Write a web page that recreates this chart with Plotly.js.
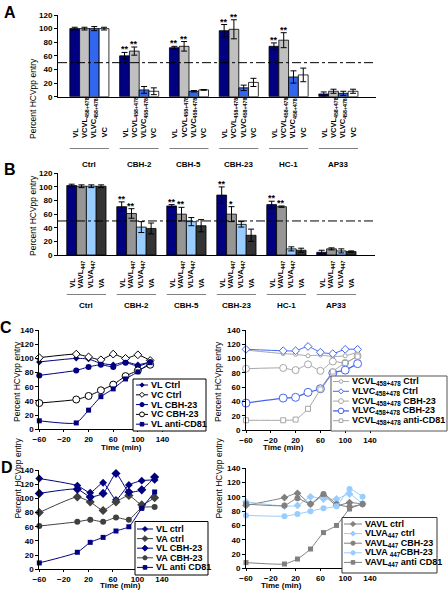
<!DOCTYPE html>
<html><head><meta charset="utf-8">
<script src="https://cdn.plot.ly/plotly-3.0.1.min.js"></script>
<style>html,body{margin:0;padding:0;background:#fff}#chart{width:448px;height:600px}</style>
</head><body><div id="chart"></div>
<script>
// ================= DATA =================
const groups = ["Ctrl", "CBH-2", "CBH-5", "CBH-23", "HC-1", "AP33"];
const threshold = 50;

// Panel A
const aLabels = ["VL", "VCVL<sub>458+478</sub>", "VLVC<sub>458+478</sub>", "VC"];
const aVL = [100, 60, 72, 97, 74, 4];
const aVL_err = [2, 5, 2, 9, 5, 3];
const aVCVL = [100, 67, 74, 99, 83, 8];
const aVCVL_err = [2, 6, 7, 14, 11, 3];
const aVLVC = [100, 10, 8, 13, 29, 5];
const aVLVC_err = [3, 5, 1, 4, 9, 3];
const aVC = [100, 8, 10, 21, 32, 8];
const aVC_err = [2, 5, 0.5, 6, 10, 3];
const aVL_sig = ["", "**", "**", "**", "**", ""];
const aVCVL_sig = ["", "**", "**", "**", "**", ""];

// Panel B
const bLabels = ["VL", "VAVL<sub>447</sub>", "VLVA<sub>447</sub>", "VA"];
const bVL = [102, 71, 72, 88, 74, 4];
const bVL_err = [2, 7, 2, 12, 5, 3];
const bVAVL = [101, 61, 60, 60, 71, 9];
const bVAVL_err = [2, 7, 10, 11, 1, 1.5];
const bVLVA = [101, 41, 49, 45, 9, 6];
const bVLVA_err = [2, 8, 6, 4, 3, 3];
const bVA = [101, 39, 43, 29, 7, 5];
const bVA_err = [2, 8, 9, 9, 3, 1];
const bVL_sig = ["", "**", "**", "**", "**", ""];
const bVAVL_sig = ["", "**", "**", "*", "**", ""];

// Panel C (time course)
const timeC = [-60, 0, 20, 40, 60, 80, 100, 120];
const cVL_ctrl = [95, 100, 99, 93, 91, 95, 91, 95];
const cVC_ctrl = [101, 106, 102, 98, 106, 100, 105, 97];
const cVL_cbh23 = [76, 83, 88, 91, 88, 94, 89, 95];
const cVC_cbh23 = [37, 42, 47, 55, 63, 75, 83, 91];
const cVL_cd81 = [12, 9, 27, 46, 57, 71, 81, 94];

const crVCVL_ctrl = [112, 107, 106, 104, 105, 103, 104, 109];
const crVLVC_ctrl = [113, 111, 111, 117, 109, 107, 113, 113];
const crVCVL_cbh23 = [86, 87, 84, 92, 83, 96, 94, 104];
const crVLVC_cbh23 = [38, 45, 46, 53, 58, 80, 84, 93];
const crVCVL_cd81 = [14, 14, 15, 30, 57, 82, 94, 103];

// Panel D (time course)
const timeD = [-60, 2, 23, 44, 65, 86, 107, 128];
const dVL_ctrl = [128, 118, 108, 122, 98, 119, 125, 126];
const dVA_ctrl = [80, 102, 95, 83, 95, 104, 91, 101];
const dVL_cbh23 = [107, 113, 102, 107, 135, 109, 112, 130];
const dVA_cbh23 = [61, 67, 70, 67, 73, 70, 87, 88];
const dVL_cd81 = [9, 24, 38, 45, 54, 60, 86, 109];

const drVAVL_ctrl = [88, 99, 105, 90, 102, 88, 92, 90];
const drVLVA_ctrl = [93, 87, 88, 100, 97, 97, 104, 90];
const drVAVL_cbh23 = [90, 88, 98, 90, 104, 90, 86, 90];
const drVLVA_cbh23 = [74, 73, 76, 80, 84, 87, 111, 100];
const drVAVL_cd81 = [8, 6, 13, 27, 50, 60, 83, 90];

// ================= LAYOUT HELPERS =================
const W = 448, H = 600;
const px = x => x / W;
const py = y => 1 - y / H;
const FONT = "Liberation Sans, Arial, sans-serif";
const traces = [], annotations = [], shapes = [];
const BARGAP = 0.215;
const barW = (1 - BARGAP) / 4;

function barPanel(xa, ya, labels, valsList, errList, colors, sigList, labelBottom, underlineY, groupNameY) {
  valsList.forEach((vals, bi) => {
    traces.push({
      type: 'bar', x: groups, y: vals, name: labels[bi], xaxis: xa, yaxis: ya,
      marker: {color: colors[bi], line: {color: '#000', width: 0.8}},
      error_y: {type: 'data', array: errList[bi], visible: true, color: '#000', thickness: 1, width: 3},
      hoverinfo: 'skip', showlegend: false
    });
    const off = (bi - 1.5) * barW;
    groups.forEach((g, gi) => {
      annotations.push({xref: xa, yref: 'paper', x: gi + off, y: py(labelBottom), textangle: -90,
        xanchor: 'center', yanchor: 'bottom', text: labels[bi], showarrow: false,
        font: {size: 7.5, weight: 'bold'}});
      const sig = sigList[bi] ? sigList[bi][gi] : '';
      if (sig) {
        annotations.push({xref: xa, yref: ya, x: gi + off, y: vals[gi] + errList[bi][gi],
          yanchor: 'bottom', text: sig, showarrow: false, yshift: -4,
          font: {size: 9, weight: 'bold'}});
      }
    });
  });
  groups.forEach((g, gi) => {
    shapes.push({type: 'line', xref: xa, yref: 'paper', x0: gi - 2 * barW, x1: gi + 2 * barW,
      y0: py(underlineY), y1: py(underlineY), line: {color: '#808080', width: 1.2}});
    annotations.push({xref: xa, yref: 'paper', x: gi, y: py(groupNameY), text: g, showarrow: false,
      font: {size: 8, weight: 'bold'}});
  });
  shapes.push({type: 'line', xref: xa + ' domain', yref: ya, x0: 0, x1: 1, y0: threshold, y1: threshold,
    line: {color: '#000', width: 1, dash: 'dashdot'}});
}

function linePanel(xa, ya, time, series) {
  series.forEach(s => traces.push({
    type: 'scatter', mode: 'lines+markers', x: time, y: s.y, name: s.name, xaxis: xa, yaxis: ya,
    cliponaxis: false,
    line: {color: s.color, width: s.lw || 1, shape: 'spline', smoothing: 0.5},
    marker: {symbol: s.symbol, size: s.size, color: s.open ? '#fff' : s.color,
      line: {color: s.color, width: s.open ? 1 : 0}},
    hoverinfo: 'skip', showlegend: false
  }));
}

function addLegend(box, series, first, step, sx0, sx1, tx, fsize, bcolor) {
  shapes.push({type: 'rect', xref: 'paper', yref: 'paper', layer: 'above',
    x0: px(box[0]), x1: px(box[1]), y0: py(box[3]), y1: py(box[2]),
    line: {color: bcolor || '#000', width: 1}, fillcolor: '#fff'});
  series.forEach((s, i) => {
    const cy = first + i * step;
    shapes.push({type: 'line', xref: 'paper', yref: 'paper', layer: 'above',
      x0: px(sx0), x1: px(sx1), y0: py(cy), y1: py(cy), line: {color: s.color, width: s.lw || 1}});
    const mx = (sx0 + sx1) / 2, r = Math.max(1.8, s.size * 0.35);
    const fill = s.open ? '#fff' : s.color;
    const ln = {color: s.color, width: 1};
    if (s.symbol === 'circle') {
      shapes.push({type: 'circle', xref: 'paper', yref: 'paper', layer: 'above',
        x0: px(mx - r), x1: px(mx + r), y0: py(cy + r), y1: py(cy - r), fillcolor: fill, line: ln});
    } else if (s.symbol === 'square') {
      shapes.push({type: 'rect', xref: 'paper', yref: 'paper', layer: 'above',
        x0: px(mx - r), x1: px(mx + r), y0: py(cy + r), y1: py(cy - r), fillcolor: fill, line: ln});
    } else {
      const rr = r * 1.2;
      shapes.push({type: 'path', xref: 'paper', yref: 'paper', layer: 'above',
        path: `M${px(mx)},${py(cy - rr)} L${px(mx + rr)},${py(cy)} L${px(mx)},${py(cy + rr)} L${px(mx - rr)},${py(cy)} Z`,
        fillcolor: fill, line: ln});
    }
    annotations.push({xref: 'paper', yref: 'paper', x: px(tx), y: py(cy), xanchor: 'left', yanchor: 'middle',
      text: s.name, showarrow: false, font: {size: fsize, weight: 'bold'}});
  });
}

// ================= BUILD =================
const NAVY = '#000080';
barPanel('x', 'y', aLabels, [aVL, aVCVL, aVLVC, aVC], [aVL_err, aVCVL_err, aVLVC_err, aVC_err],
  [NAVY, '#c0c0c0', '#3366ee', '#ffffff'], [aVL_sig, aVCVL_sig, null, null], 140, 148.5, 158);
barPanel('x2', 'y2', bLabels, [bVL, bVAVL, bVLVA, bVA], [bVL_err, bVAVL_err, bVLVA_err, bVA_err],
  [NAVY, '#969696', '#99ccff', '#333333'], [bVL_sig, bVAVL_sig, null, null], 290, 294.5, 305);

const BLUE = '#4466ee', GRAY = '#a6a6a6', DGRAY = '#404040', LBLUE = '#99ccff', MGRAY = '#808080';

const cLeft = [
  {name: 'VL Ctrl', y: cVL_ctrl, color: NAVY, symbol: 'diamond', size: 5},
  {name: 'VC Ctrl', y: cVC_ctrl, color: '#000', symbol: 'diamond', size: 6, open: true},
  {name: 'VL CBH-23', y: cVL_cbh23, color: NAVY, symbol: 'circle', size: 6},
  {name: 'VC CBH-23', y: cVC_cbh23, color: '#000', symbol: 'circle', size: 7, open: true},
  {name: 'VL anti-CD81', y: cVL_cd81, color: NAVY, symbol: 'square', size: 5}
];
const cRight = [
  {name: 'VCVL<sub>458+478</sub> Ctrl', y: crVCVL_ctrl, color: GRAY, symbol: 'circle', size: 4, open: true},
  {name: 'VLVC<sub>458+478</sub> Ctrl', y: crVLVC_ctrl, color: BLUE, symbol: 'diamond', size: 6, open: true},
  {name: 'VCVL<sub>458+478</sub> CBH-23', y: crVCVL_cbh23, color: GRAY, symbol: 'circle', size: 7, open: true},
  {name: 'VLVC<sub>458+478</sub> CBH-23', y: crVLVC_cbh23, color: BLUE, symbol: 'circle', size: 8, open: true, lw: 1.3},
  {name: 'VCVL<sub>458+478</sub> anti-CD81', y: crVCVL_cd81, color: GRAY, symbol: 'square', size: 5, open: true}
];
const dLeft = [
  {name: 'VL ctrl', y: dVL_ctrl, color: NAVY, symbol: 'diamond', size: 6},
  {name: 'VA ctrl', y: dVA_ctrl, color: DGRAY, symbol: 'diamond', size: 7},
  {name: 'VL CBH-23', y: dVL_cbh23, color: NAVY, symbol: 'diamond', size: 7},
  {name: 'VA CBH-23', y: dVA_cbh23, color: DGRAY, symbol: 'circle', size: 6},
  {name: 'VL anti CD81', y: dVL_cd81, color: NAVY, symbol: 'square', size: 5}
];
const dRight = [
  {name: 'VAVL ctrl', y: drVAVL_ctrl, color: MGRAY, symbol: 'diamond', size: 6},
  {name: 'VLVA<sub>447</sub> ctrl', y: drVLVA_ctrl, color: LBLUE, symbol: 'diamond', size: 6},
  {name: 'VAVL<sub>447</sub> CBH-23', y: drVAVL_cbh23, color: MGRAY, symbol: 'circle', size: 6},
  {name: 'VLVA <sub>447</sub>CBH-23', y: drVLVA_cbh23, color: LBLUE, symbol: 'circle', size: 6},
  {name: 'VAVL<sub>447</sub> anti CD81', y: drVAVL_cd81, color: MGRAY, symbol: 'square', size: 5}
];
linePanel('x3', 'y3', timeC, cLeft);
linePanel('x4', 'y4', timeC, cRight);
linePanel('x5', 'y5', timeD, dLeft);
linePanel('x6', 'y6', timeD, dRight);

addLegend([133, 206, 379, 431], cLeft, 385, 9.8, 136, 148, 149, 9);
addLegend([331, 447, 376, 431], cRight, 381.5, 9.8, 333, 349, 350, 9, '#555');
addLegend([135, 208, 521.5, 575], dLeft, 529, 9.6, 137, 153, 154, 9);
addLegend([342, 437, 517.5, 573], dRight, 524, 9.6, 344, 362, 363, 9, '#333');

// Axis titles and panel letters
const yTitles = [[26, 56.5], [26, 216], [10, 382], [218, 382], [10, 521], [218, 521]];
yTitles.forEach(([x, y]) => annotations.push({xref: 'paper', yref: 'paper', x: px(x), y: py(y),
  textangle: -90, text: 'Percent HCVpp entry', showarrow: false, font: {size: 8.5}}));
const xTitles = [[100, 453], [305, 453], [99, 591], [303, 591]];
xTitles.forEach(([x, y]) => annotations.push({xref: 'paper', yref: 'paper', x: px(x), y: py(y),
  text: 'Time (min)', showarrow: false, borderpad: 0, font: {size: 8, weight: 'bold'}}));
const letters = [['A', 10, 12.5], ['B', 10, 169], ['C', 6, 327.5], ['D', 6.5, 467.5]];
letters.forEach(([t, x, y]) => annotations.push({xref: 'paper', yref: 'paper', x: px(x), y: py(y),
  xanchor: 'center', yanchor: 'middle', text: t, showarrow: false, font: {size: 16, weight: 'bold'}}));

// Axes
function barX(l, r, range, anchor) {
  return {domain: [px(l), px(r)], range: range, type: 'category', anchor: anchor,
    showline: true, linecolor: '#000', linewidth: 1, ticks: '', showticklabels: false,
    showgrid: false, zeroline: false, fixedrange: true};
}
function valY(bottom, top, max, anchor) {
  return {domain: [py(bottom), py(top)], range: [0, max], dtick: 20, tick0: 0, anchor: anchor,
    ticks: 'outside', ticklen: 3, tickwidth: 1, tickcolor: '#000',
    showline: true, linecolor: '#000', linewidth: 1, showgrid: false, zeroline: false,
    tickfont: {size: 8, weight: 'bold'}, fixedrange: true};
}
function timeX(l, r, anchor) {
  return {domain: [px(l), px(r)], range: [-60, 140], tick0: -60, dtick: 40, anchor: anchor,
    ticks: 'outside', ticklen: 2, tickwidth: 1, tickcolor: '#000',
    showline: true, linecolor: '#000', linewidth: 1, showgrid: false, zeroline: false,
    tickfont: {size: 8, weight: 'bold'}, fixedrange: true};
}

const layout = {
  width: W, height: H, margin: {l: 0, r: 0, t: 0, b: 0},
  paper_bgcolor: '#fff', plot_bgcolor: 'rgba(0,0,0,0)',
  showlegend: false, barmode: 'group', bargap: BARGAP, bargroupgap: 0,
  font: {family: FONT, size: 8, color: '#000'},
  xaxis: barX(58, 376, [-0.63, 5.755], 'y'),
  yaxis: valY(96.7, 15, 120, 'x'),
  xaxis2: barX(58, 375, [-0.568, 5.772], 'y2'),
  yaxis2: valY(255, 173.3, 120, 'x2'),
  xaxis3: timeX(39.3, 162.5, 'y3'),
  yaxis3: valY(429.3, 330, 140, 'x3'),
  xaxis4: timeX(246, 370, 'y4'),
  yaxis4: valY(430.3, 330, 140, 'x4'),
  xaxis5: timeX(39.3, 162, 'y5'),
  yaxis5: valY(569.3, 470, 140, 'x5'),
  xaxis6: timeX(246, 370, 'y6'),
  yaxis6: valY(568.3, 468.3, 140, 'x6'),
  annotations: annotations, shapes: shapes
};

Plotly.newPlot('chart', traces, layout, {staticPlot: true, displayModeBar: false});
</script>
</body></html>
